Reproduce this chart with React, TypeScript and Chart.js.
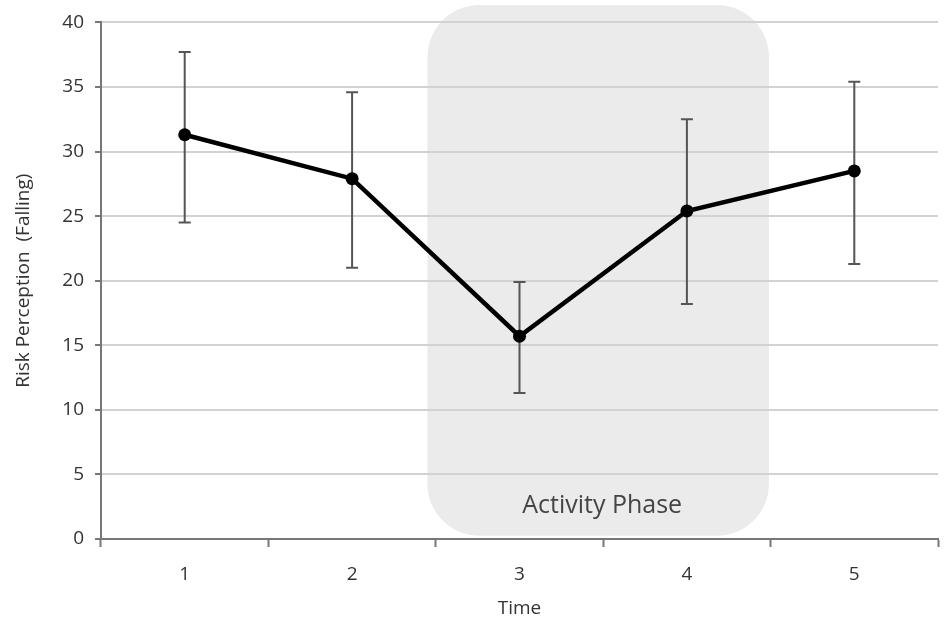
import { useEffect, useRef } from "react";
import { Chart, registerables, type ChartConfiguration, type Plugin } from "chart.js";

Chart.register(...registerables);

const times = ["1", "2", "3", "4", "5"];
const means = [31.3, 27.9, 15.7, 25.4, 28.5];
const lower = [24.5, 21.0, 11.3, 18.2, 21.3];
const upper = [37.7, 34.6, 19.9, 32.5, 35.4];

// activity phase box, in category-index / value units
const phaseFrom = 1.45;
const phaseTo = 3.49;
const phaseTop = 41.35;
const phaseBottom = 0.25;
const phaseLabel = "Activity Phase";

const FONT = "'Open Sans', 'Noto Sans', sans-serif";
const TEXT = "#333333";

const phasePlugin: Plugin<"line"> = {
  id: "phase",
  beforeDraw(chart) {
    const { ctx, scales } = chart;
    const x0 = scales.x.getPixelForValue(phaseFrom);
    const x1 = scales.x.getPixelForValue(phaseTo);
    const y0 = scales.y.getPixelForValue(phaseTop);
    const y1 = scales.y.getPixelForValue(phaseBottom);
    ctx.save();
    ctx.fillStyle = "#ebebeb";
    ctx.beginPath();
    ctx.roundRect(x0, y0, x1 - x0, y1 - y0, 52);
    ctx.fill();
    ctx.fillStyle = "#444444";
    ctx.font = `25px ${FONT}`;
    ctx.textAlign = "center";
    ctx.textBaseline = "middle";
    ctx.fillText(phaseLabel, (x0 + x1) / 2 + 4, y1 - 30);
    ctx.restore();
  },
};

const errorBarPlugin: Plugin<"line"> = {
  id: "errorBars",
  beforeDatasetsDraw(chart) {
    const { ctx, scales } = chart;
    ctx.save();
    ctx.strokeStyle = "#555555";
    ctx.lineWidth = 2;
    times.forEach((_, i) => {
      const x = scales.x.getPixelForValue(i);
      const yl = scales.y.getPixelForValue(lower[i]);
      const yu = scales.y.getPixelForValue(upper[i]);
      ctx.beginPath();
      ctx.moveTo(x, yu);
      ctx.lineTo(x, yl);
      ctx.moveTo(x - 6, yu);
      ctx.lineTo(x + 6, yu);
      ctx.moveTo(x - 6, yl);
      ctx.lineTo(x + 6, yl);
      ctx.stroke();
    });
    ctx.restore();
  },
};

export default function App() {
  const canvasRef = useRef<HTMLCanvasElement>(null);

  useEffect(() => {
    document.body.style.margin = "0";
    if (!canvasRef.current) return;
    const cfg: ChartConfiguration<"line", number[], string> = {
      type: "line",
      data: {
        labels: times,
        datasets: [
          {
            data: means,
            borderColor: "#000000",
            backgroundColor: "#000000",
            borderWidth: 4.5,
            pointRadius: 6.5,
            pointBorderWidth: 0,
            tension: 0,
          },
        ],
      },
      options: {
        animation: false,
        responsive: true,
        maintainAspectRatio: false,
        layout: { padding: { top: 20, right: 12, left: 0, bottom: 12 } },
        plugins: {
          legend: { display: false },
          tooltip: { enabled: false },
        },
        scales: {
          x: {
            offset: true,
            grid: {
              display: true,
              drawOnChartArea: false,
              offset: true,
              tickLength: 8,
              tickColor: "#777777",
              tickWidth: 2,
            },
            border: { color: "#777777", width: 2 },
            ticks: { color: TEXT, font: { family: FONT, size: 19 }, padding: 16 },
            title: {
              display: true,
              text: "Time",
              color: TEXT,
              font: { family: FONT, size: 19 },
              padding: { top: 0, bottom: 0 },
            },
            afterFit: (s) => {
              s.height = 81;
            },
          },
          y: {
            min: 0,
            max: 40,
            ticks: { stepSize: 5, color: TEXT, font: { family: FONT, size: 19 }, padding: 11 },
            grid: {
              color: "#d2d2d2",
              lineWidth: 2,
              tickLength: 6,
              tickColor: "#777777",
              tickWidth: 2,
            },
            border: { color: "#777777", width: 2 },
            title: {
              display: true,
              text: "Risk Perception  (Falling)",
              color: TEXT,
              font: { family: FONT, size: 19 },
              padding: { top: 12, bottom: 0 },
            },
            afterFit: (s) => {
              s.width = 101;
            },
          },
        },
      },
      plugins: [phasePlugin, errorBarPlugin],
    };
    const chart = new Chart(canvasRef.current, cfg);
    return () => chart.destroy();
  }, []);

  return (
    <div style={{ position: "relative", width: 950, height: 632, background: "#ffffff" }}>
      <canvas ref={canvasRef} />
    </div>
  );
}
